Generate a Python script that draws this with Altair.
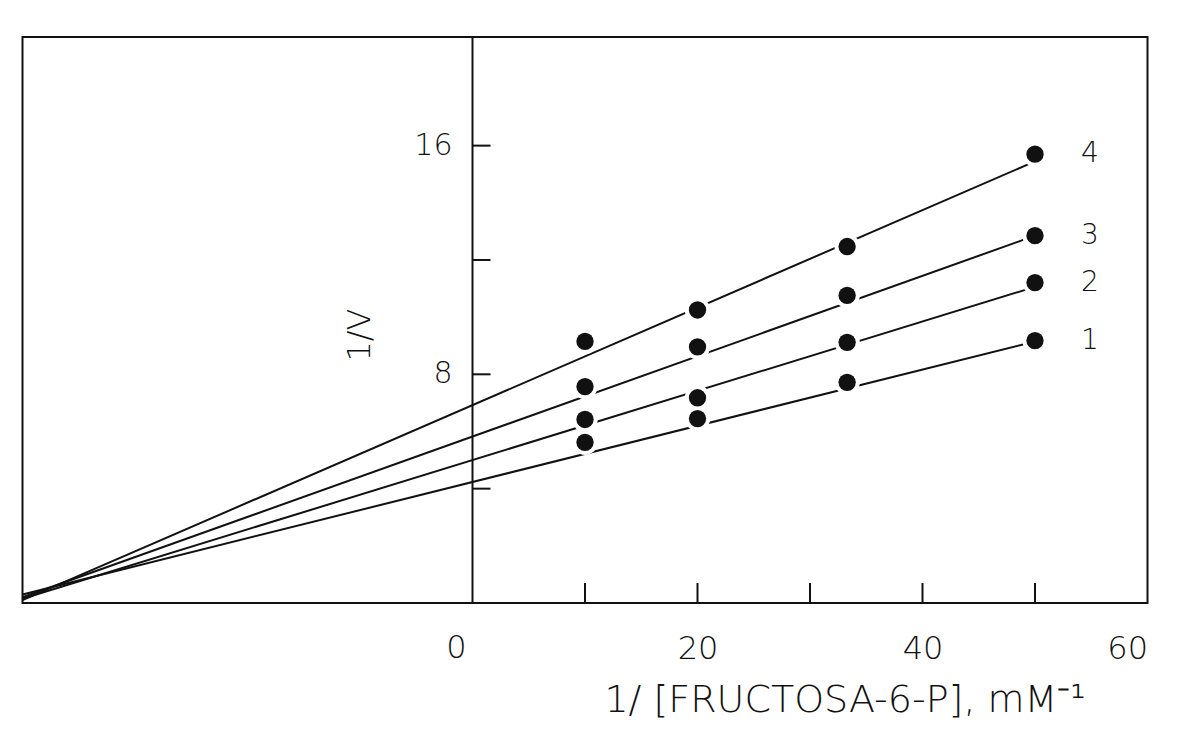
import altair as alt
import pandas as pd

# ---- data ----
x_inv_s = [10, 20, 33.3, 50]                 # 1/[fructosa-6-P], mM^-1
series_names = ["1", "2", "3", "4"]
v1 = [5.62, 6.45, 7.72, 9.18]
v2 = [6.42, 7.18, 9.12, 11.21]
v3 = [7.57, 8.96, 10.76, 12.85]
v4 = [9.15, 10.25, 12.47, 15.70]

line_x = [-40, 50]                            # fitted lines run from the convergence point to the last point
line_start = [0.3, 0.15, 0.2, 0.1]
line_end = [9.15, 11.06, 12.85, 15.45]

x_ticks = [10, 20, 30, 40, 50]
x_labels = [0, 20, 40, 60]
y_ticks = [4, 8, 12, 16]
y_labels = [8, 16]

X_DOMAIN = [-40, 60]
Y_DOMAIN = [0, 19.8]
W, H = 1125, 566
FONT = "DejaVu Sans"
FW = 200
INK = "#111111"

# ---- tables ----
values = [v1, v2, v3, v4]
pts = pd.DataFrame(
    [{"series": s, "x": x, "y": y} for s, vs in zip(series_names, values) for x, y in zip(x_inv_s, vs)]
)
lines = pd.DataFrame(
    [{"series": s, "x": line_x[0], "y": a} for s, a in zip(series_names, line_start)]
    + [{"series": s, "x": line_x[1], "y": b} for s, b in zip(series_names, line_end)]
)
last = pd.DataFrame(
    [{"series": s, "x": x_inv_s[-1], "y": vs[-1]} for s, vs in zip(series_names, values)]
)
xt = pd.DataFrame({"x": x_ticks})
yt = pd.DataFrame({"y": y_ticks})
yl = pd.DataFrame({"y": y_labels, "label": [str(v) for v in y_labels]})
x0 = pd.DataFrame({"x": x_labels[:1], "label": [str(v) for v in x_labels[:1]]})
ytitle = pd.DataFrame({"t": ["1/V"]})

xs = alt.Scale(domain=X_DOMAIN, nice=False, zero=False)
ys = alt.Scale(domain=Y_DOMAIN, nice=False, zero=False)

x_axis = alt.Axis(
    values=x_labels[1:],
    ticks=False,
    domain=False,
    grid=False,
    labelFontSize=32,
    labelFont=FONT,
    labelFontWeight=FW,
    labelColor=INK,
    labelPadding=30,
    title="1/ [FRUCTOSA-6-P], mM⁻¹",
    titleFont=FONT,
    titleFontWeight=FW,
    titleFontSize=38,
    titleColor=INK,
    titleX=822,
    titleY=97,
    titleAlign="center",
    titleBaseline="middle",
)


def X(field="x"):
    return alt.X(f"{field}:Q", scale=xs, axis=x_axis)


def Y(field="y"):
    return alt.Y(f"{field}:Q", scale=ys, axis=None)


line_layer = alt.Chart(lines).mark_line(color=INK, strokeWidth=2).encode(
    x=X(), y=Y(), detail="series:N"
)
yaxis_rule = alt.Chart(x0).mark_rule(color=INK, strokeWidth=2).encode(x=X())
xtick_layer = alt.Chart(xt).mark_tick(
    orient="vertical", size=20, thickness=2, yOffset=-10, color=INK, opacity=1
).encode(x=X(), y=alt.value(H))
ytick_layer = alt.Chart(yt).mark_tick(
    orient="horizontal", size=18, thickness=2, xOffset=9, color=INK, opacity=1
).encode(x=alt.value(40 * W / 100), y=Y())
ylabel_layer = alt.Chart(yl).mark_text(
    align="right", baseline="middle", dx=-20, fontSize=30, font=FONT, fontWeight=FW, color=INK
).encode(x=alt.value(40 * W / 100), y=Y(), text="label:N")
x0_label = alt.Chart(x0).mark_text(
    align="center", baseline="top", dx=-16, dy=30, fontSize=32, font=FONT, fontWeight=FW, color=INK
).encode(x=X(), y=alt.value(H), text="label:N")
halo = alt.Chart(pts).mark_point(filled=True, size=640, color="white", opacity=1).encode(x=X(), y=Y())
dots = alt.Chart(pts).mark_point(filled=True, size=300, color=INK, opacity=1).encode(x=X(), y=Y())
series_lbl = alt.Chart(last).mark_text(
    align="left", baseline="middle", dx=46, fontSize=28, font=FONT, fontWeight=FW, color=INK
).encode(x=X(), y=Y(), text="series:N")
ytitle_layer = alt.Chart(ytitle).mark_text(
    angle=270, fontSize=32, font=FONT, fontWeight=FW, color=INK, align="center", baseline="middle"
).encode(x=alt.value(337), y=alt.value(298), text="t:N")

chart = (
    alt.layer(
        line_layer, yaxis_rule, xtick_layer, ytick_layer, ylabel_layer, x0_label,
        halo, dots, series_lbl, ytitle_layer,
    )
    .properties(
        width=W,
        height=H,
        autosize="none",
        padding={"left": 14.5, "top": 29, "right": 25, "bottom": 125},
        background="white",
    )
    .configure_view(stroke=INK, strokeWidth=2)
)

chart.save("out.html", embed_options={"renderer": "svg", "actions": False})
